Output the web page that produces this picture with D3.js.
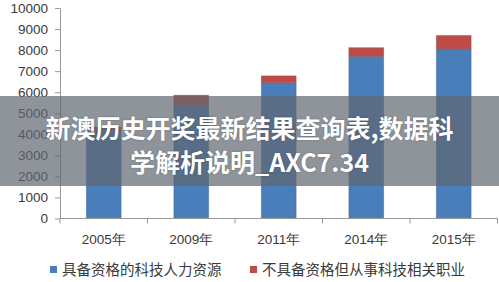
<!DOCTYPE html>
<html>
<head>
<meta charset="utf-8">
<script src="https://cdn.jsdelivr.net/npm/d3@7"></script>
<style>
  body { margin: 0; background: #fff; }
  svg { display: block; font-family: "Noto Sans", "Noto Sans CJK SC", sans-serif; }
</style>
</head>
<body>
<div id="viz"></div>
<script>
const years = ["2005年", "2009年", "2011年", "2014年", "2015年"];
const qualified = [4250, 5400, 6450, 7700, 8060];
const unqualified = [100, 460, 330, 420, 640];
const yTicks = [0, 1000, 2000, 3000, 4000, 5000, 6000, 7000, 8000, 9000, 10000];
const seriesNames = ["具备资格的科技人力资源", "不具备资格但从事科技相关职业"];
const seriesColors = ["#4a7ebb", "#be4b48"];
const overlayLines = ["新澳历史开奖最新结果查询表,数据科", "学解析说明_AXC7.34"];

const width = 499, height = 282;

const svg = d3.select("#viz")
  .append("svg")
    .attr("width", width)
    .attr("height", height);

const x = d3.scaleBand()
  .domain(years)
  .range([60, 497.5])
  .paddingInner(0.6)
  .paddingOuter(0.3);

const y = d3.scaleLinear()
  .domain([0, 10000])
  .range([218.5, 8]);

// y axis
const yAxis = svg.append("g")
  .attr("transform", "translate(60,0)")
  .call(d3.axisLeft(y).tickValues(yTicks).tickFormat(d3.format("d"))
    .tickSize(5).tickSizeOuter(0).tickPadding(7));
yAxis.select(".domain").attr("stroke", "#999");
yAxis.selectAll(".tick line").attr("stroke", "#999");
yAxis.selectAll("text")
  .attr("fill", "#3a3a3a")
  .style("font-size", "13.5px");

// stacked bars
const rows = years.map((yr, i) => ({ year: yr, s0: qualified[i], s1: unqualified[i] }));
const stack = d3.stack().keys(["s0", "s1"])(rows);

svg.append("g")
  .selectAll("g")
  .data(stack)
  .join("g")
    .attr("fill", (d, i) => seriesColors[i])
  .selectAll("rect")
  .data(d => d)
  .join("rect")
    .attr("x", d => x(d.data.year))
    .attr("y", d => y(d[1]))
    .attr("width", x.bandwidth())
    .attr("height", d => y(d[0]) - y(d[1]))
    .attr("stroke", "rgba(0,0,0,0.12)")
    .attr("stroke-width", 1);

// x axis with ticks at category boundaries
const half = (x.step() - x.bandwidth()) / 2;
const bounds = years.map(c => x(c) - half).concat([x(years[years.length - 1]) + x.bandwidth() + half]);
const xg = svg.append("g").attr("transform", `translate(0,${y(0)})`);
xg.append("line")
  .attr("x1", bounds[0]).attr("x2", bounds[bounds.length - 1])
  .attr("stroke", "#999");
xg.selectAll("line.tk")
  .data(bounds)
  .join("line")
    .attr("class", "tk")
    .attr("x1", d => d).attr("x2", d => d)
    .attr("y1", 0).attr("y2", 5)
    .attr("stroke", "#999");
const xAxis = xg.append("g")
  .call(d3.axisBottom(x).tickSize(0).tickPadding(16));
xAxis.select(".domain").remove();
xAxis.selectAll("text")
  .attr("fill", "#3a3a3a")
  .style("font-size", "13.5px");

// legend
const legendX = [50, 250];
const legend = svg.append("g")
  .selectAll("g")
  .data(seriesNames)
  .join("g")
    .attr("transform", (d, i) => `translate(${legendX[i]},270)`);
legend.append("rect")
  .attr("y", -4)
  .attr("width", 7)
  .attr("height", 7)
  .attr("fill", (d, i) => seriesColors[i]);
legend.append("text")
  .attr("x", 12)
  .attr("dy", "0.35em")
  .attr("fill", "#3a3a3a")
  .style("font-size", "14.5px")
  .text(d => d);

// overlay banner
svg.append("rect")
  .attr("x", 0)
  .attr("y", 96)
  .attr("width", width)
  .attr("height", 90)
  .attr("fill", "rgba(95,103,112,0.7)");

svg.append("g")
  .selectAll("text")
  .data(overlayLines)
  .join("text")
    .attr("x", width / 2)
    .attr("y", (d, i) => 127 + i * 34)
    .attr("text-anchor", "middle")
    .attr("dominant-baseline", "central")
    .attr("fill", "#fff")
    .style("font-family", "'Noto Sans CJK SC', sans-serif")
    .style("font-weight", "bold")
    .style("font-size", "25px")
    .style("text-shadow", "0 0 2px rgba(0,0,0,0.3)")
    .text(d => d);
</script>
</body>
</html>
